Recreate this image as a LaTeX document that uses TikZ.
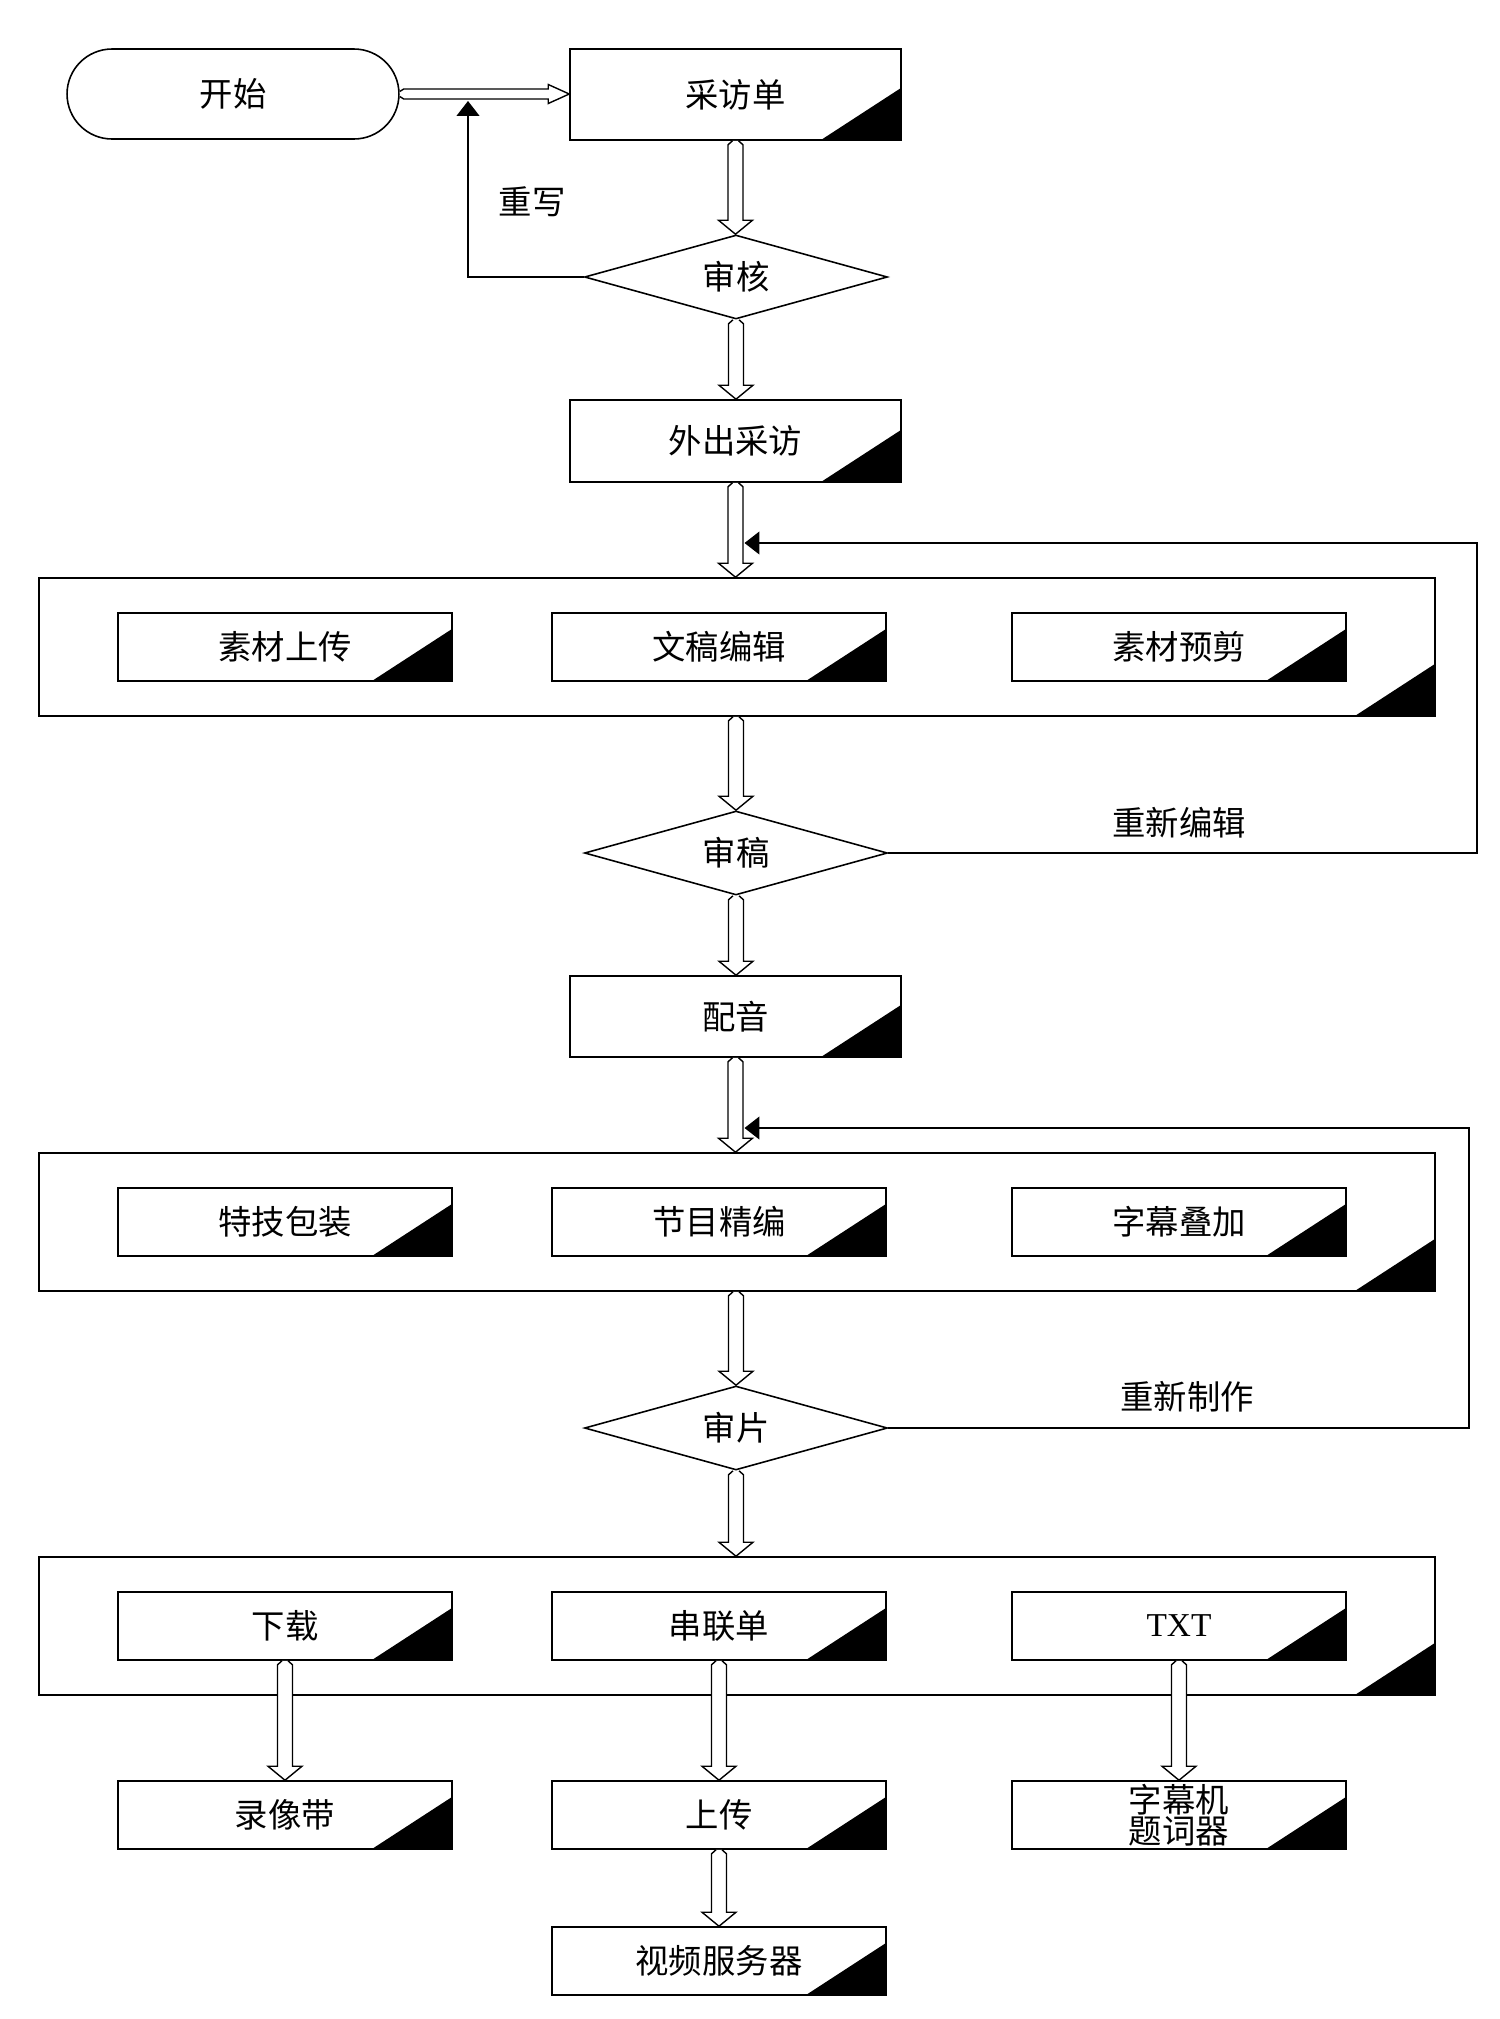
\documentclass[tikz,border=0pt]{standalone}
\usepackage{fontspec}
\setmainfont{Noto Sans CJK SC}
\newfontfamily\latinfont{Liberation Serif}
\usetikzlibrary{shapes.geometric,arrows.meta,calc}
\def\px{0.56905pt}
\tikzset{
  every node/.style={font=\fontsize{19}{18}\selectfont, inner sep=0pt},
  blk/.style={path picture={\fill (path picture bounding box.south east) -- ++(-80,0) -- ++(80,-52) -- cycle;}},
  mbox/.style={draw, line width=0.9pt, minimum width=6.62cm, blk},
  sbox/.style={draw, line width=0.9pt, minimum width=6.68cm, minimum height=1.36cm, blk},
  cont/.style={draw, line width=0.9pt, minimum width=27.92cm, minimum height=2.76cm, blk},
  stad/.style={draw, line width=0.9pt, rounded corners=0.9cm, minimum width=6.64cm, minimum height=1.8cm},
  dia/.style={draw, line width=0.9pt, diamond, aspect=3.6, minimum width=6.06cm, minimum height=1.68cm},
  arr/.style={draw, fill=white, line width=0.8pt},
  fb/.style={draw, line width=0.8pt, -{Triangle[length=8.5pt,width=13pt]}},
  lbl/.style={}
}
\newcommand{\vharrow}[2]{\path[arr] let \p1=(#1), \p2=(#2) in
  (\x1-3*\px,\y1) -- (\x1-7.5*\px,\y1-4*\px) -- (\x1-7.5*\px,\y2+14*\px) -- (\x1-17*\px,\y2+14*\px) -- (\x1,\y2) -- (\x1+17*\px,\y2+14*\px) -- (\x1+7.5*\px,\y2+14*\px) -- (\x1+7.5*\px,\y1-4*\px) -- (\x1+3*\px,\y1);}
\newcommand{\hharrow}[2]{\path[arr] let \p1=(#1), \p2=(#2) in
  (\x1,\y1+2.5*\px) -- (\x1+4*\px,\y1+5*\px) -- (\x2-21*\px,\y1+5*\px) -- (\x2-21*\px,\y1+9.5*\px) -- (\x2,\y1) -- (\x2-21*\px,\y1-9.5*\px) -- (\x2-21*\px,\y1-5*\px) -- (\x1+4*\px,\y1-5*\px) -- (\x1,\y1-2.5*\px);}
\begin{document}
\begin{tikzpicture}[x=0.02cm,y=-0.02cm]
\useasboundingbox (0,0) rectangle (1500,2019);
% main column
\node[stad] (start) at (233,94) {开始};
\node[mbox, minimum height=1.82cm] (caifang) at (735.5,94.5) {采访单};
\node[dia] (shenhe) at (736,277) {审核};
\node[mbox, minimum height=1.64cm] (waichu) at (735.5,441) {外出采访};
% container 1
\node[cont] (c1) at (737,647) {};
\node[sbox] (a1) at (285,647) {素材上传};
\node[sbox] (a2) at (719,647) {文稿编辑};
\node[sbox] (a3) at (1179,647) {素材预剪};
\node[dia] (shengao) at (736,853) {审稿};
\node[mbox, minimum height=1.62cm] (peiyin) at (735.5,1016.5) {配音};
% container 2
\node[cont] (c2) at (737,1222) {};
\node[sbox] (b1) at (285,1222) {特技包装};
\node[sbox] (b2) at (719,1222) {节目精编};
\node[sbox] (b3) at (1179,1222) {字幕叠加};
\node[dia] (shenpian) at (736,1428) {审片};
% container 3
\node[cont] (c3) at (737,1626) {};
\node[sbox] (d1) at (285,1626) {下载};
\node[sbox] (d2) at (719,1626) {串联单};
\node[sbox] (d3) at (1179,1626) {\latinfont TXT};
% bottom row
\node[sbox] (e1) at (285,1815) {录像带};
\node[sbox] (e2) at (719,1815) {上传};
\node[sbox, align=center] (e3) at (1179,1815) {字幕机\\题词器};
\node[sbox] (f2) at (719,1961) {视频服务器};
% hollow arrows
\hharrow{start.east}{caifang.west}
\vharrow{caifang.south}{shenhe.north}
\vharrow{shenhe.south}{waichu.north}
\vharrow{waichu.south}{c1.north}
\vharrow{c1.south -| shengao.north}{shengao.north}
\vharrow{shengao.south}{peiyin.north}
\vharrow{peiyin.south}{c2.north}
\vharrow{c2.south -| shenpian.north}{shenpian.north}
\vharrow{shenpian.south}{c3.north}
\vharrow{d1.south}{e1.north}
\vharrow{d2.south}{e2.north}
\vharrow{d3.south}{e3.north}
\vharrow{e2.south}{f2.north}
% feedback loops
\coordinate (rw) at (468,101);
\draw[fb] (shenhe.west) -| (rw);
\coordinate (k1) at (1477,543);
\coordinate (j1) at (744.5,543);
\draw[fb] (shengao.east) -| (k1) -- (j1);
\coordinate (k2) at (1469,1128);
\coordinate (j2) at (744.5,1128);
\draw[fb] (shenpian.east) -| (k2) -- (j2);
% labels
\node[lbl] (l1) at (532,202) {重写};
\node[lbl] (l2) at (1179,823) {重新编辑};
\node[lbl] (l3) at (1187,1397) {重新制作};
\end{tikzpicture}
\end{document}
